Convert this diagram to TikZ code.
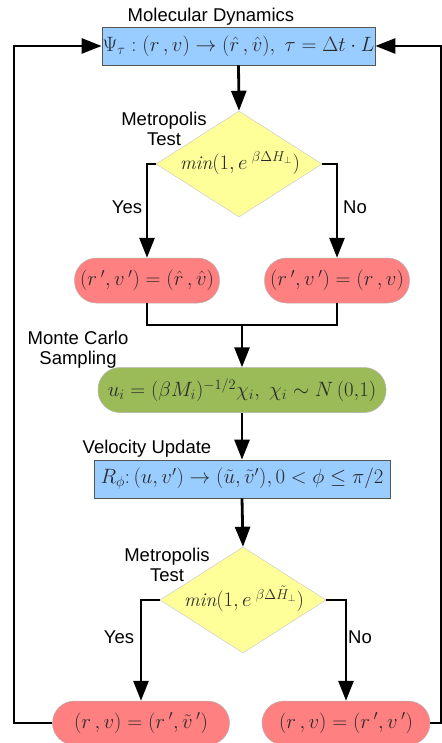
\documentclass[tikz,border=0pt]{standalone}
\usepackage{fontspec}
\setsansfont{Liberation Sans}
\usetikzlibrary{arrows.meta,positioning,shapes.geometric}
\definecolor{mdBlue}  {HTML}{99CCFF}
\definecolor{mdRed}   {HTML}{FF8080}
\definecolor{mdGreen} {HTML}{9BBB59}
\definecolor{mdYellow}{HTML}{FFFF99}
\definecolor{mdEdge}  {HTML}{555555}
\definecolor{mdInk}   {HTML}{2A2A2A}

\begin{document}
\begin{tikzpicture}[x=1pt,y=-1pt,
    flow/.style={line width=2.8pt,-{Triangle[length=20pt,width=15pt]}},
    link/.style={line width=2.8pt},
    caption/.style={font=\sffamily\fontsize{18.5}{20}\selectfont,align=center,inner sep=0pt},
    mathtext/.style={text=mdInk,font=\fontsize{19.5}{22}\selectfont,inner sep=0pt},
    procbox/.style={mathtext,draw=mdEdge,fill=mdBlue,line width=0.8pt,minimum height=38pt},
    pill/.style={mathtext,draw=gray!60,line width=0.5pt,rounded corners=22pt,minimum height=45pt},
    decision/.style={diamond,draw=gray!40,fill=mdYellow,line width=0.5pt,inner sep=0pt,
                     minimum width=166pt,minimum height=106pt}]
  \useasboundingbox (0,0) rectangle (441,743);

  % boxes
  \node[procbox,minimum width=273pt] (md) at (238.5,46)
    {$\Psi_\tau:(r\,,v)\rightarrow(\hat r\,,\hat v),\ \tau=\Delta t\cdot L$};
  \node[decision] (test1) at (239,164) {};
  \node[mathtext] (test1txt) at (240,163) {$\mathit{min}(1,e^{\;\beta\Delta H_{\perp}})$};
  \node[pill,fill=mdRed,minimum width=145pt] (acc1) at (147,280.5)
    {$(r\,',v\,')=(\hat r\,,\hat v)$};
  \node[pill,fill=mdRed,minimum width=145pt] (rej1) at (337,280.5)
    {$(r\,',v\,')=(r\,,v)$};
  \node[pill,fill=mdGreen,minimum width=288pt] (sample) at (242,390)
    {$u_i=(\beta M_i)^{-1/2}\chi_i,\ \chi_i\sim N\,(0{,}1)$};
  \node[procbox,minimum width=296pt] (vel) at (242,479)
    {$R_\phi{:}\,(u,v')\rightarrow(\tilde u,\tilde v'),0<\phi\leq\pi/2$};
  \node[decision] (test2) at (243,600) {};
  \node[mathtext] (test2txt) at (244,599) {$\mathit{min}(1,e^{\;\beta\Delta\tilde H_{\perp}})$};
  \node[pill,fill=mdRed,minimum width=177pt,minimum height=44pt] (acc2) at (141,723)
    {$(r\,,v)=(r\,',\tilde v\,')$};
  \node[pill,fill=mdRed,minimum width=168pt,minimum height=44pt] (rej2) at (346,723)
    {$(r\,,v)=(r\,',v\,')$};

  % captions
  \node[caption] (mdcap) at (211,17) {Molecular Dynamics};
  \node[caption] (test1cap) at (164,129) {Metropolis\\Test};
  \node[caption] (yes1) at (127,207) {Yes};
  \node[caption] (no1) at (355,207) {No};
  \node[caption] (samplecap) at (78,350) {Monte Carlo\\Sampling};
  \node[caption] (velcap) at (147,449) {Velocity Update};
  \node[caption] (test2cap) at (167,565) {Metropolis\\Test};
  \node[caption] (yes2) at (119,637) {Yes};
  \node[caption] (no2) at (360,637) {No};

  % connectors
  \coordinate (merge) at (242,325);
  \coordinate (loopL) at (14,723);
  \coordinate (loopR) at (441,723);
  \draw[flow] (md.south) -- (test1.north);
  \draw[flow] (test1.west) -| (acc1.north);
  \draw[flow] (test1.east) -| (rej1.north);
  \draw[link] (acc1.south) |- (merge);
  \draw[link] (rej1.south) |- (merge);
  \draw[flow] (merge) -- (sample.north);
  \draw[flow] (sample.south) -- (vel.north);
  \draw[flow] (vel.south) -- (test2.north);
  \draw[flow] (test2.west) -| (acc2.north);
  \draw[flow] (test2.east) -| (rej2.north);
  \draw[flow] (acc2.west) -- (loopL) |- (md.west);
  \draw[flow] (rej2.east) -- (loopR) |- (md.east);
\end{tikzpicture}
\end{document}
